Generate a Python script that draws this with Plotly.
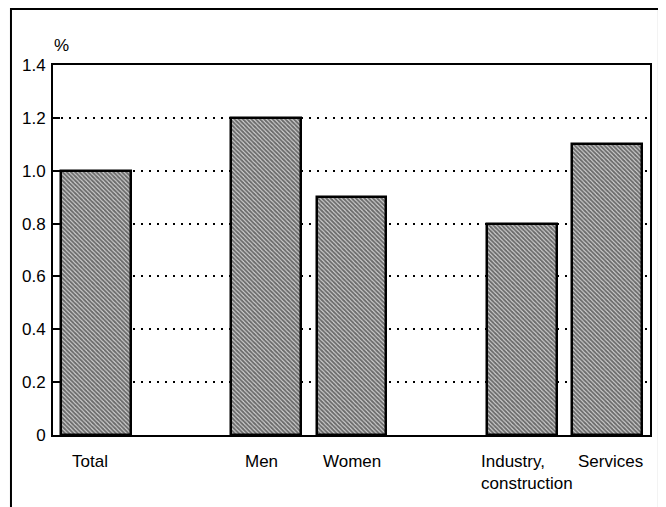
import plotly.graph_objects as go

categories = ["Total", "Men", "Women", "Industry,<br>construction", "Services"]
positions = [0, 2, 3, 5, 6]
values = [1.0, 1.2, 0.9, 0.8, 1.1]
y_ticks = [0, 0.2, 0.4, 0.6, 0.8, 1.0, 1.2, 1.4]
y_tick_labels = ["0", "0.2", "0.4", "0.6", "0.8", "1.0", "1.2", "1.4"]

FONT = "Liberation Sans, Arial, Helvetica, sans-serif"
label_xshift = [-6, -5, 0, 5, 3]

fig = go.Figure()
fig.add_trace(go.Bar(
    x=positions, y=values, width=0.82,
    marker=dict(
        color="white",
        line=dict(color="black", width=2.5),
        pattern=dict(shape="\\", fgcolor="black", bgcolor="#d8d8d8", size=3, solidity=0.65),
    ),
    showlegend=False, hoverinfo="skip",
))

annotations = [dict(
    text="%", xref="paper", yref="paper", x=0.015, y=1.054,
    xanchor="center", yanchor="middle", showarrow=False, font=dict(size=17),
)]
for pos, lab, dx in zip(positions, categories, label_xshift):
    annotations.append(dict(
        text=lab, x=pos, xref="x", y=0, yref="paper", yanchor="top", xanchor="center",
        xshift=dx, yshift=-15, showarrow=False, align="left", font=dict(size=17),
    ))

fig.update_layout(
    width=658, height=499,
    margin=dict(l=45, r=16, t=57, b=72, autoexpand=False),
    paper_bgcolor="white", plot_bgcolor="white",
    font=dict(family=FONT, size=17, color="black"),
    bargap=0,
    xaxis=dict(
        range=[-0.5, 6.5], tickvals=positions, showticklabels=False,
        showgrid=False, zeroline=False, showline=True, linecolor="black", linewidth=2,
        mirror=True, ticks="", automargin=False,
    ),
    yaxis=dict(
        range=[0, 1.4], tickvals=y_ticks, ticktext=y_tick_labels,
        showgrid=True, gridcolor="black", gridwidth=2, griddash="2px,6px",
        zeroline=False, showline=True, linecolor="black", linewidth=2, mirror=True,
        ticks="inside", ticklen=7, tickcolor="black", tickwidth=2, ticklabelstandoff=2,
        automargin=False,
    ),
    shapes=[dict(
        type="rect", xref="paper", yref="paper",
        x0=-0.0704, x1=1.015, y0=-0.25, y1=1.1514,
        line=dict(color="black", width=2), fillcolor="rgba(0,0,0,0)", layer="below",
    )],
    annotations=annotations,
)

fig.write_html("out.html")
